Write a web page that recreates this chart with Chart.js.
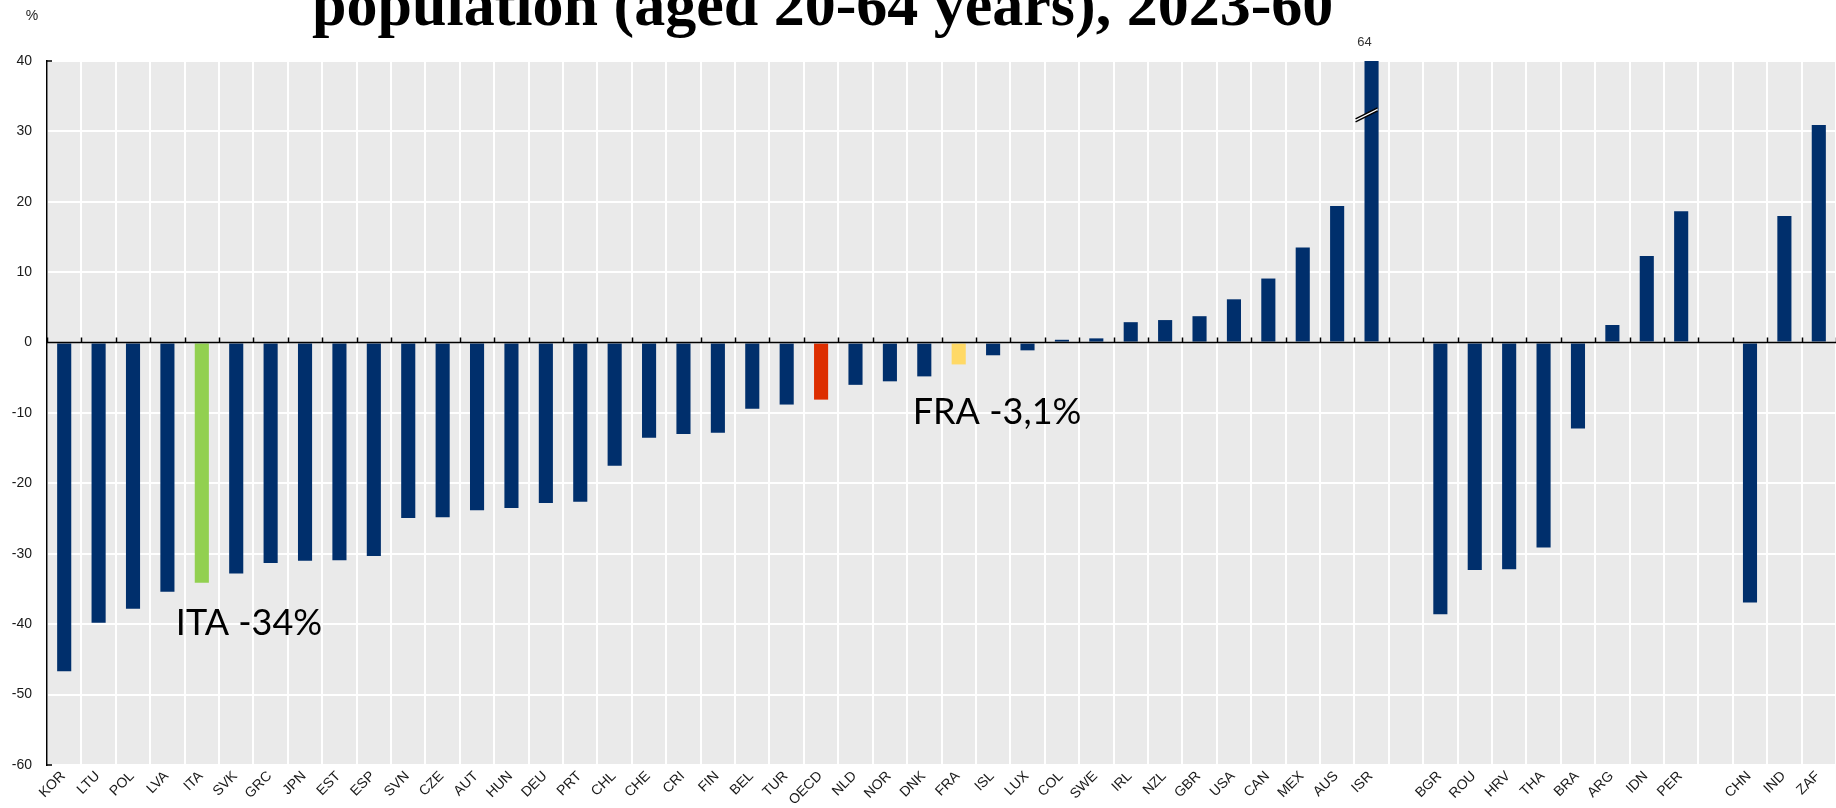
<!DOCTYPE html>
<html lang="en">
<head>
  <meta charset="UTF-8">
  <title>Working-age population change, 2023-60</title>
  <script src="https://cdn.jsdelivr.net/npm/chart.js"></script>
  <style>
    body { margin: 0; background: #fff; }
    .chart-container { position: relative; width: 1836px; height: 808px; }
  </style>
</head>
<body>
  <div class="chart-container"><canvas id="barChart"></canvas></div>

  <script>
    // countries, with blank slots separating the groups
    const categories = [
      'KOR','LTU','POL','LVA','ITA','SVK','GRC','JPN','EST','ESP',
      'SVN','CZE','AUT','HUN','DEU','PRT','CHL','CHE','CRI','FIN',
      'BEL','TUR','OECD','NLD','NOR','DNK','FRA','ISL','LUX','COL',
      'SWE','IRL','NZL','GBR','USA','CAN','MEX','AUS','ISR','',
      'BGR','ROU','HRV','THA','BRA','ARG','IDN','PER','',
      'CHN','IND','ZAF'
    ];
    // % change, 2023-60
    const values = [
      -46.7, -39.8, -37.8, -35.4, -34.1, -32.8, -31.3, -31.0, -30.9, -30.3,
      -24.9, -24.8, -23.8, -23.5, -22.8, -22.6, -17.5, -13.5, -13.0, -12.8,
      -9.4, -8.8, -8.1, -6.0, -5.5, -4.8, -3.1, -1.8, -1.1, 0.4,
      0.6, 2.9, 3.2, 3.75, 6.15, 9.1, 13.5, 19.4, 64, null,
      -38.6, -32.3, -32.2, -29.1, -12.2, 2.5, 12.3, 18.65, null,
      -36.9, 18.0, 30.9
    ];
    const yTicks = [-60, -50, -40, -30, -20, -10, 0, 10, 20, 30, 40];
    const titleText = 'population (aged 20-64 years), 2023-60';
    const unitLabel = '%';

    const mainColor = '#002F6C';
    const highlight = { ITA: '#92D050', OECD: '#DD2E00', FRA: '#FFD966' };
    const notes = [
      { cat: 'ITA', text: 'ITA -34%', at: -41.5, dx: -26 },
      { cat: 'FRA', text: 'FRA -3,1%', at: -11.6, dx: -46 }
    ];

    const yMin = yTicks[0], yMax = yTicks[yTicks.length - 1];
    const barColors = categories.map(c => highlight[c] || mainColor);
    const labelFont = '"Liberation Sans", Arial, sans-serif';

    const decor = {
      id: 'decor',
      beforeDraw(chart) {
        const { ctx, chartArea: a } = chart;
        ctx.save();
        ctx.fillStyle = '#EAEAEA';
        ctx.fillRect(a.left, a.top, a.right - a.left, a.bottom - a.top);
        ctx.restore();
      },
      afterDatasetsDraw(chart) {
        const { ctx, chartArea: a, scales: { x, y } } = chart;
        const y0 = y.getPixelForValue(0);
        const step = (a.right - a.left) / categories.length;
        ctx.save();

        // zero line with small ticks at category boundaries
        ctx.strokeStyle = '#000';
        ctx.lineWidth = 1.5;
        ctx.beginPath();
        ctx.moveTo(a.left, y0); ctx.lineTo(a.right, y0);
        for (let i = 0; i <= categories.length; i++) {
          const bx = Math.round(a.left + i * step) + 0.5;
          ctx.moveTo(bx, y0 - 5); ctx.lineTo(bx, y0);
        }
        // end caps on the y axis
        ctx.moveTo(a.left, a.top); ctx.lineTo(a.left + 5, a.top);
        ctx.moveTo(a.left, a.bottom); ctx.lineTo(a.left + 5, a.bottom);
        ctx.stroke();

        // bars going off the scale: break mark + real value
        values.forEach((v, i) => {
          if (v == null || v <= yMax) return;
          const cx = x.getPixelForValue(i);
          const yb = y.getPixelForValue(32.5);
          ctx.fillStyle = '#fff';
          ctx.beginPath();
          ctx.moveTo(cx - 16, yb + 5); ctx.lineTo(cx + 6, yb - 6);
          ctx.lineTo(cx + 6, yb - 3); ctx.lineTo(cx - 16, yb + 8);
          ctx.closePath(); ctx.fill();
          ctx.strokeStyle = '#000'; ctx.lineWidth = 1.5;
          ctx.beginPath();
          ctx.moveTo(cx - 16, yb + 5); ctx.lineTo(cx + 6, yb - 6);
          ctx.moveTo(cx - 16, yb + 8); ctx.lineTo(cx + 6, yb - 3);
          ctx.stroke();
          ctx.fillStyle = '#333';
          ctx.font = '13px ' + labelFont;
          ctx.textAlign = 'center'; ctx.textBaseline = 'middle';
          ctx.fillText(String(v), cx - 7, a.top - 19);
        });

        // annotations
        ctx.fillStyle = '#000';
        ctx.font = '36px Lato, "Open Sans", sans-serif';
        ctx.textAlign = 'left'; ctx.textBaseline = 'alphabetic';
        notes.forEach(n => {
          const i = categories.indexOf(n.cat);
          ctx.fillText(n.text, x.getPixelForValue(i) + n.dx, y.getPixelForValue(n.at));
        });

        // unit label
        ctx.fillStyle = '#222';
        ctx.font = '14px ' + labelFont;
        ctx.textAlign = 'center'; ctx.textBaseline = 'middle';
        ctx.fillText(unitLabel, 32, 16);

        // title (first line is off the top of the picture)
        ctx.fillStyle = '#000';
        ctx.font = 'bold 100px "Liberation Serif", serif';
        const w100 = ctx.measureText(titleText).width;
        const size = 100 * 1021 / w100;
        ctx.font = 'bold ' + size.toFixed(1) + 'px "Liberation Serif", serif';
        ctx.textAlign = 'left'; ctx.textBaseline = 'alphabetic';
        ctx.fillText(titleText, 312, 25);
        ctx.restore();
      }
    };

    window.barChart = new Chart(document.getElementById('barChart'), {
      type: 'bar',
      data: {
        labels: categories,
        datasets: [{ data: values, backgroundColor: barColors, barPercentage: 0.41, categoryPercentage: 1 }]
      },
      options: {
        responsive: true,
        maintainAspectRatio: false,
        animation: false,
        layout: { padding: { top: 61, right: 0, left: 0, bottom: 0 } },
        plugins: { legend: { display: false }, tooltip: { enabled: false }, title: { display: false } },
        scales: {
          x: {
            grid: { color: '#fff', lineWidth: 2, drawTicks: false, offset: true },
            border: { display: false },
            ticks: {
              autoSkip: false, minRotation: 45, maxRotation: 45, padding: 3, labelOffset: -1,
              color: '#1a1a1a', font: { family: labelFont, size: 14 }
            },
            afterFit(scale) { scale.height = 43; }
          },
          y: {
            min: yMin, max: yMax,
            grid: { color: ctx => ctx.tick && ctx.tick.value === 0 ? 'rgba(0,0,0,0)' : '#fff', lineWidth: 2, drawTicks: false },
            border: { display: true, color: '#000', width: 1.5 },
            ticks: {
              stepSize: 10, padding: 15,
              color: '#1a1a1a', font: { family: labelFont, size: 14 }
            },
            afterFit(scale) { scale.width = 47; }
          }
        }
      },
      plugins: [decor]
    });
  </script>
</body>
</html>
